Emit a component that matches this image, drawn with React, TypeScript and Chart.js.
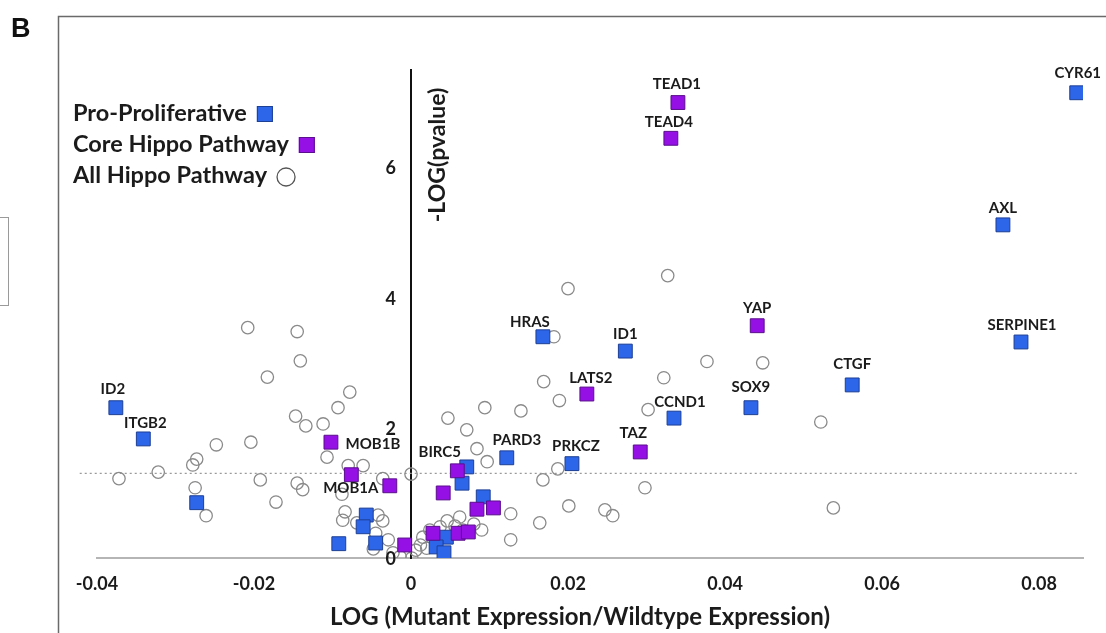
import React, { useEffect, useRef } from 'react';
import { Chart, registerables } from 'chart.js';

Chart.register(...registerables);

// Axis ticks and the p = 0.05 significance cut-off
const X_TICKS = [-0.04, -0.02, 0, 0.02, 0.04, 0.06, 0.08];
const Y_TICKS = [0, 2, 4, 6];
const SIGNIFICANCE_LEVEL = 1.301; // -log10(0.05)
const THRESHOLD_X = [-0.0422, 0.0848];

// Pro-proliferative genes (blue squares)
const PRO_NAMES = ['CYR61', 'AXL', 'SERPINE1', 'CTGF', 'SOX9', 'CCND1', 'ID1', 'HRAS', 'PARD3', 'PRKCZ', 'ID2', 'ITGB2', 'BIRC5',
  '', '', '', '', '', '', '', '', '', ''];
const PRO_X = [0.0848, 0.0754, 0.0777, 0.0562, 0.0433, 0.0335, 0.0273, 0.0168, 0.0122, 0.0205, -0.0376, -0.0341, 0.0071,
  0.0065, 0.0092, 0.0045, 0.0032, 0.0042, -0.0057, -0.0061, -0.0092, -0.0045, -0.0273];
const PRO_Y = [7.15, 5.12, 3.32, 2.66, 2.31, 2.15, 3.18, 3.40, 1.54, 1.45, 2.31, 1.83, 1.40,
  1.15, 0.94, 0.32, 0.17, 0.08, 0.66, 0.48, 0.22, 0.23, 0.85];

// Core Hippo pathway genes (purple squares)
const CORE_NAMES = ['TEAD1', 'TEAD4', 'YAP', 'LATS2', 'TAZ', 'MOB1B', 'MOB1A',
  '', '', '', '', '', '', '', '', ''];
const CORE_X = [0.0340, 0.0331, 0.0441, 0.0224, 0.0292, -0.0102, -0.0027,
  -0.0076, -0.0008, 0.0059, 0.0041, 0.0084, 0.0105, 0.0028, 0.0060, 0.0073];
const CORE_Y = [7.00, 6.45, 3.57, 2.52, 1.63, 1.78, 1.11,
  1.28, 0.20, 1.34, 1.00, 0.75, 0.77, 0.38, 0.38, 0.40];

// All Hippo pathway genes (open circles)
const HIPPO_X = [-0.0208, -0.0145, -0.0141, -0.0183, -0.0078, -0.0093, -0.0147, -0.0134, -0.0112, -0.0204,
  -0.0248, -0.0107, -0.0273, -0.0278, -0.0322, -0.0372, -0.0192, -0.0145, -0.0138, -0.0275,
  -0.0261, -0.0172, -0.0080, -0.0061, -0.0036, -0.0088, -0.0084, -0.0087, -0.0069, -0.0042,
  -0.0036, -0.0045, -0.0029, -0.0048, -0.0023, -0.0014, 0.0000, 0.0001,
  0.0327, 0.0200, 0.0182, 0.0169, 0.0377, 0.0448, 0.0322, 0.0189, 0.0094, 0.0140,
  0.0047, 0.0302, 0.0522, 0.0071, 0.0084, 0.0097, 0.0187, 0.0168, 0.0298, 0.0201,
  0.0247, 0.0257, 0.0538, 0.0164, 0.0127, 0.0127, 0.0090, 0.0062, 0.0046, 0.0024,
  0.0015, 0.0012, 0.0006, 0.0020, 0.0066, 0.0080, 0.0056, 0.0037];
const HIPPO_Y = [3.54, 3.48, 3.03, 2.78, 2.55, 2.31, 2.18, 2.03, 2.06, 1.78,
  1.74, 1.55, 1.52, 1.43, 1.32, 1.22, 1.20, 1.15, 1.05, 1.08,
  0.65, 0.86, 1.42, 1.42, 1.22, 0.98, 0.71, 0.58, 0.54, 0.66,
  0.57, 0.38, 0.28, 0.14, 0.08, 0.02, 1.29, 0.00,
  4.34, 4.14, 3.40, 2.71, 3.02, 3.00, 2.77, 2.42, 2.31, 2.26,
  2.15, 2.28, 2.09, 1.97, 1.68, 1.48, 1.37, 1.20, 1.08, 0.80,
  0.74, 0.65, 0.77, 0.54, 0.68, 0.28, 0.43, 0.63, 0.57, 0.43,
  0.32, 0.20, 0.12, 0.15, 0.43, 0.52, 0.49, 0.48];

const LEGEND_ITEMS = ['Pro-Proliferative', 'Core Hippo Pathway', 'All Hippo Pathway'];
const X_TITLE = 'LOG (Mutant Expression/Wildtype Expression)';
const Y_TITLE = '-LOG(pvalue)';
const PANEL_LETTER = 'B';

// Styling
const FONT = 'Lato, "Open Sans", sans-serif';
const BLUE = '#2e66ea';
const BLUE_EDGE = '#1d3f94';
const PURPLE = '#9410e4';
const PURPLE_EDGE = '#5a0f8c';
const CIRCLE_EDGE = '#8a8a8a';
const TEXT = '#1b1b1b';

// Gene label placement, in pixels from the marker centre
const LABEL_OFFSETS: Record<string, [number, number]> = {
  CYR61: [1, -20], AXL: [0, -17], SERPINE1: [1, -17], CTGF: [0, -21], SOX9: [0, -21],
  CCND1: [6, -16], ID1: [0, -17], HRAS: [-13, -15], PARD3: [10, -18], PRKCZ: [4, -17],
  ID2: [-3, -19], ITGB2: [2, -16], BIRC5: [-27, -15], TEAD1: [-1, -18], TEAD4: [-2, -16],
  YAP: [0, -18], LATS2: [4, -16], TAZ: [-7, -19], MOB1B: [42, 2], MOB1A: [-39, 2],
};

const toPoints = (xs: number[], ys: number[]) => xs.map((x, i) => ({ x, y: ys[i] }));

const annotations = {
  id: 'annotations',
  afterDatasetsDraw(chart: any) {
    const ctx = chart.ctx as CanvasRenderingContext2D;
    ctx.save();
    ctx.font = `bold 15px ${FONT}`;
    ctx.fillStyle = TEXT;
    ctx.textAlign = 'center';
    ctx.textBaseline = 'middle';
    const groups: [number, string[]][] = [[2, PRO_NAMES], [3, CORE_NAMES]];
    for (const [di, names] of groups) {
      const meta = chart.getDatasetMeta(di);
      names.forEach((name, i) => {
        if (!name) return;
        const el = meta.data[i];
        const [dx, dy] = LABEL_OFFSETS[name] || [0, -18];
        ctx.fillText(name, el.x + dx, el.y + dy);
      });
    }
    ctx.restore();
  },
  afterDraw(chart: any) {
    const ctx = chart.ctx as CanvasRenderingContext2D;
    const { x, y } = chart.scales;
    const axisX = x.getPixelForValue(0);
    ctx.save();

    // y tick labels sit just left of the centred value axis
    ctx.font = `bold 18px ${FONT}`;
    ctx.fillStyle = TEXT;
    ctx.textAlign = 'right';
    ctx.textBaseline = 'middle';
    Y_TICKS.forEach((v) => ctx.fillText(String(v), axisX - 15, y.getPixelForValue(v) + 1));

    // panel frame
    ctx.strokeStyle = '#6a6a6a';
    ctx.lineWidth = 1.5;
    ctx.strokeRect(58.5, 16.5, 1080, 640);

    // neighbouring panel edge
    ctx.strokeStyle = '#9a9a9a';
    ctx.lineWidth = 1;
    ctx.strokeRect(-6.5, 217.5, 15, 88);

    // panel letter
    ctx.fillStyle = '#111';
    ctx.font = 'bold 27px "Liberation Sans", Arial, sans-serif';
    ctx.textAlign = 'left';
    ctx.textBaseline = 'alphabetic';
    ctx.fillText(PANEL_LETTER, 11, 37);

    // legend
    ctx.font = `bold 23.5px ${FONT}`;
    const baselines = [121, 152, 183];
    LEGEND_ITEMS.forEach((label, i) => {
      const by = baselines[i];
      ctx.fillStyle = TEXT;
      ctx.fillText(label, 73, by);
      const mx = 73 + ctx.measureText(label).width + 10;
      const cy = by - 7;
      if (i < 2) {
        ctx.fillStyle = i === 0 ? BLUE : PURPLE;
        ctx.fillRect(mx, cy - 8, 16, 16);
        ctx.strokeStyle = i === 0 ? BLUE_EDGE : PURPLE_EDGE;
        ctx.lineWidth = 1;
        ctx.strokeRect(mx + 0.5, cy - 7.5, 15, 15);
      } else {
        ctx.strokeStyle = '#555';
        ctx.lineWidth = 1.3;
        ctx.beginPath();
        ctx.arc(mx + 9, cy + 1, 9, 0, Math.PI * 2);
        ctx.stroke();
      }
    });

    // axis titles
    ctx.fillStyle = TEXT;
    ctx.font = `bold 24px ${FONT}`;
    ctx.textAlign = 'center';
    ctx.textBaseline = 'middle';
    ctx.fillText(X_TITLE, 580, 617);

    ctx.save();
    ctx.translate(axisX + 27, 155);
    ctx.rotate(-Math.PI / 2);
    ctx.font = `bold 23px ${FONT}`;
    ctx.fillText(Y_TITLE, 0, 0);
    ctx.restore();

    ctx.restore();
  },
};

export default function App() {
  const canvasRef = useRef<HTMLCanvasElement>(null);

  useEffect(() => {
    const canvas = canvasRef.current;
    if (!canvas) return;
    const tickFont = { family: FONT, weight: 'bold' as const, size: 18 };
    const chart = new Chart(canvas, {
      type: 'scatter',
      data: {
        datasets: [
          {
            type: 'line',
            data: THRESHOLD_X.map((v) => ({ x: v, y: SIGNIFICANCE_LEVEL })),
            borderColor: '#9a9a9a',
            borderWidth: 1.4,
            borderDash: [2, 3],
            pointRadius: 0,
            clip: false as any,
            order: 5,
          } as any,
          {
            data: toPoints(HIPPO_X, HIPPO_Y),
            pointStyle: 'circle',
            pointRadius: 6.2,
            backgroundColor: 'rgba(255,255,255,0)',
            borderColor: CIRCLE_EDGE,
            borderWidth: 1.3,
            order: 4,
          },
          {
            data: toPoints(PRO_X, PRO_Y),
            pointStyle: 'rect',
            pointRadius: 9.8,
            backgroundColor: BLUE,
            borderColor: BLUE_EDGE,
            borderWidth: 1,
            order: 3,
          },
          {
            data: toPoints(CORE_X, CORE_Y),
            pointStyle: 'rect',
            pointRadius: 9.8,
            backgroundColor: PURPLE,
            borderColor: PURPLE_EDGE,
            borderWidth: 1,
            order: 2,
          },
        ],
      },
      options: {
        animation: false,
        responsive: false,
        events: [],
        layout: { padding: { left: 97, right: 23, top: 70, bottom: 35 } },
        plugins: { legend: { display: false }, tooltip: { enabled: false } },
        scales: {
          x: {
            type: 'linear',
            position: 'bottom',
            min: -0.04,
            max: 0.0856,
            afterFit: (s: any) => { s.height = 40; },
            afterBuildTicks: (s: any) => { s.ticks = X_TICKS.map((value) => ({ value })); },
            grid: { display: true, color: 'rgba(0,0,0,0)', drawTicks: false },
            border: { display: true, color: '#b5b5b5', width: 2 },
            ticks: {
              padding: 15,
              color: TEXT,
              font: tickFont,
              maxRotation: 0,
              autoSkip: false,
              callback: (v: any) => (Number(v) === 0 ? '0' : Number(v).toFixed(2)),
            },
          },
          y: {
            type: 'linear',
            position: { x: 0 } as any,
            min: 0,
            max: 7.5,
            afterFit: (s: any) => { s.width = 0; },
            afterBuildTicks: (s: any) => { s.ticks = Y_TICKS.map((value) => ({ value })); },
            grid: { display: true, color: 'rgba(0,0,0,0)', drawTicks: false },
            border: { display: true, color: '#111', width: 2 },
            ticks: { display: false },
          },
        },
      },
      plugins: [annotations],
    });
    return () => chart.destroy();
  }, []);

  return (
    <div style={{ position: 'fixed', left: 0, top: 0, width: 1106, height: 633, background: '#fff' }}>
      <canvas ref={canvasRef} width={1106} height={633} style={{ display: 'block' }} />
    </div>
  );
}
